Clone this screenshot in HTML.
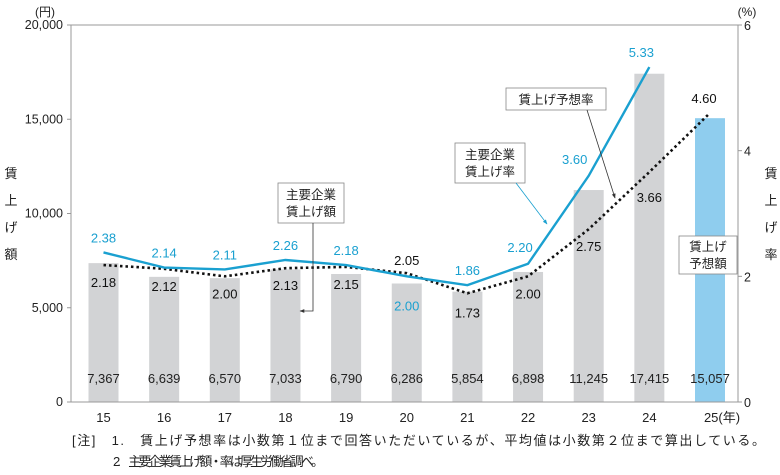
<!DOCTYPE html>
<html><head><meta charset="utf-8">
<style>
body{margin:0;background:#fff;}
svg{display:block;font-family:"Liberation Sans","Noto Sans CJK JP",sans-serif;}
</style></head>
<body>
<svg id="chart" width="780" height="475" viewBox="0 0 780 475" xmlns="http://www.w3.org/2000/svg">
<defs>
<marker id="ah" viewBox="0 0 10 10" refX="9" refY="5" markerWidth="6" markerHeight="6" orient="auto"><path d="M0,1 L10,5 L0,9 z" fill="#333"/></marker>
<marker id="ahb" viewBox="0 0 10 10" refX="9" refY="5" markerWidth="6" markerHeight="6" orient="auto"><path d="M0,1 L10,5 L0,9 z" fill="#1aa0d0"/></marker>
</defs>
<g id="bars"></g>
<g id="axes"></g>
<g id="lines"></g>
<g id="labels"></g>

<text x="45" y="16" font-size="12" fill="#222" text-anchor="middle">(円)</text>
<text x="747" y="16" font-size="12" fill="#222" text-anchor="middle">(%)</text>
<text font-size="13" fill="#222" text-anchor="middle">
<tspan x="11" y="178">賃</tspan><tspan x="11" y="205">上</tspan><tspan x="11" y="232">げ</tspan><tspan x="11" y="259">額</tspan></text>
<text font-size="13" fill="#222" text-anchor="middle">
<tspan x="771" y="178">賃</tspan><tspan x="771" y="205">上</tspan><tspan x="771" y="232">げ</tspan><tspan x="771" y="259">率</tspan></text>

<g>
<rect x="278" y="183" width="66" height="40" fill="#fff" stroke="#888" stroke-width="0.8"/>
<text x="311" y="199" font-size="12.5" text-anchor="middle" fill="#222">主要企業</text>
<text x="311" y="216" font-size="12.5" text-anchor="middle" fill="#222">賃上げ額</text>
<polyline points="313,223 313,311 300,311" fill="none" stroke="#333" stroke-width="0.8" marker-end="url(#ah)"/>
</g>
<g>
<rect x="455" y="143" width="70" height="40" fill="#fff" stroke="#888" stroke-width="0.8"/>
<text x="490" y="159" font-size="12.5" text-anchor="middle" fill="#222">主要企業</text>
<text x="490" y="176" font-size="12.5" text-anchor="middle" fill="#222">賃上げ率</text>
<line x1="516" y1="183" x2="547" y2="224" stroke="#1aa0d0" stroke-width="0.8" marker-end="url(#ahb)"/>
</g>
<g>
<rect x="506" y="88" width="100" height="22" fill="#fff" stroke="#888" stroke-width="0.8"/>
<text x="556" y="104" font-size="12.5" text-anchor="middle" fill="#222">賃上げ予想率</text>
<line x1="587" y1="110" x2="615" y2="198" stroke="#333" stroke-width="0.8" marker-end="url(#ah)"/>
</g>
<g>
<rect x="679" y="236" width="58" height="38" fill="#fff" stroke="#888" stroke-width="0.8"/>
<text x="708" y="251" font-size="12.5" text-anchor="middle" fill="#222">賃上げ</text>
<text x="708" y="268" font-size="12.5" text-anchor="middle" fill="#222">予想額</text>
</g>

<text x="72" y="445" font-size="13" fill="#222" textLength="693" lengthAdjust="spacing">[注]　1.　賃上げ予想率は小数第１位まで回答いただいているが、平均値は小数第２位まで算出している。</text>
<text x="113" y="466" font-size="13" fill="#222" textLength="211" lengthAdjust="spacing">2.　主要企業賃上げ額・率は厚生労働省調べ。</text>

<script>
const years = ["15","16","17","18","19","20","21","22","23","24","25"];
const amounts = [7367,6639,6570,7033,6790,6286,5854,6898,11245,17415,15057];
const majorRate = [2.38,2.14,2.11,2.26,2.18,2.00,1.86,2.20,3.60,5.33];
const forecastRate = [2.18,2.12,2.00,2.13,2.15,2.05,1.73,2.00,2.75,3.66,4.60];
const leftTicks = [0,5000,10000,15000,20000];
const rightTicks = [0,2,4,6];

const NS="http://www.w3.org/2000/svg";
const L=71,R=738,T=25,B=402;
function xPos(i){return 103.5+i*60.65;}
function yL(v){return B-(v/20000)*(B-T);}
function yR(v){return B-(v/6)*(B-T);}
function mk(tag,attrs,parent){const e=document.createElementNS(NS,tag);for(const k in attrs)e.setAttribute(k,attrs[k]);parent.appendChild(e);return e;}
const gb=document.getElementById('bars'),ga=document.getElementById('axes'),gl=document.getElementById('lines'),gt=document.getElementById('labels');

amounts.forEach((v,i)=>{
  const last=i===amounts.length-1;
  const r=mk('rect',{x:xPos(i)-15,y:yL(v),width:30,height:B-yL(v),fill:last?'#8fcdee':'#d2d3d5'},gb);
  
  
  const t=mk('text',{x:xPos(i),y:383,'font-size':13,'text-anchor':'middle',fill:'#222'},gt);
  t.textContent=v.toLocaleString('en-US');
  
  
  const xl=mk('text',{x:xPos(i),y:422,'font-size':13,'text-anchor':'middle',fill:'#222'},ga);
  xl.textContent=last?years[i]+'(年)':years[i];
  if(last)xl.setAttribute('x',xPos(i)+12);
  
  
});
const frame=mk('path',{d:`M${L},${T} L${R},${T} L${R},${B} L${L},${B} Z`,fill:'none',stroke:'#999','stroke-width':1},ga);


leftTicks.forEach(v=>{
  mk('line',{x1:L-4,x2:L,y1:yL(v),y2:yL(v),stroke:'#999'},ga);
  const t=mk('text',{x:L-8,y:yL(v)+4,'font-size':12.5,'text-anchor':'end',fill:'#222'},ga);
  t.textContent=v.toLocaleString('en-US');
  
  
});
rightTicks.forEach(v=>{
  mk('line',{x1:R,x2:R+4,y1:yR(v),y2:yR(v),stroke:'#999'},ga);
  const t=mk('text',{x:R+6,y:yR(v)+5,'font-size':12.5,fill:'#222'},ga);
  t.textContent=v;
  
  
});
const fl=mk('polyline',{points:forecastRate.map((v,i)=>xPos(i)+','+yR(v)).join(' '),fill:'none',stroke:'#111','stroke-width':2.6,'stroke-dasharray':'2.5 3'},gl);


const ml=mk('polyline',{points:majorRate.map((v,i)=>xPos(i)+','+yR(v)).join(' '),fill:'none',stroke:'#1aa0d0','stroke-width':2.4},gl);



majorRate.forEach((v,i)=>{
  let dx=0,dy=-10;
  if(i===5){dy=34;}
  if(i===7){dx=-8;dy=-12;}
  if(i===8){dx=-14;dy=-12;}
  if(i===9){dx=-8;dy=-10;}
  const t=mk('text',{x:xPos(i)+dx,y:yR(v)+dy,'font-size':13,'text-anchor':'middle',fill:'#1aa0d0'},gt);
  t.textContent=v.toFixed(2);
  
  
});
forecastRate.forEach((v,i)=>{
  let dx=0,dy=22;
  if(i===5){dy=-8;}
  if(i===6){dy=24;}
  if(i===9){dy=30;}
  if(i===10){dx=-6;dy=-10;}
  const t=mk('text',{x:xPos(i)+dx,y:yR(v)+dy,'font-size':13,'text-anchor':'middle',fill:'#111'},gt);
  t.textContent=v.toFixed(2);
  
  
});
</script>
</svg>
</body></html>
